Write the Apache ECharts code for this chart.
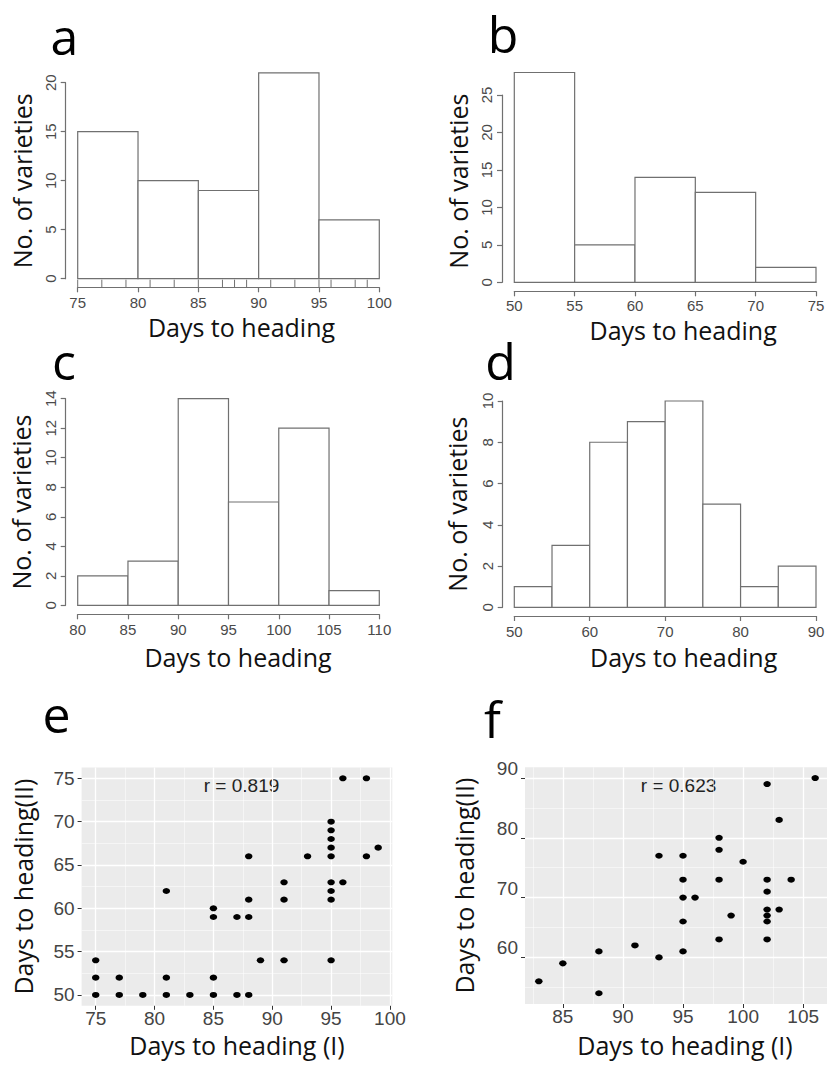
<!DOCTYPE html>
<html>
<head>
<meta charset="utf-8">
<title>Days to heading</title>
<script src="https://cdn.jsdelivr.net/npm/echarts@6.0.0/dist/echarts.min.js"></script>
<style>
  html, body { margin: 0; padding: 0; background: #fff; }
  #main { width: 827px; height: 1069px; }
</style>
</head>
<body>
<div id="main"></div>
<script>
// histogram bin edges and counts (a-d)
var edgesA = [75, 80, 85, 90, 95, 100];
var countsA = [15, 10, 9, 21, 6];
var rugA = [75, 77, 79, 81, 83, 85, 87, 88, 89, 91, 93, 95, 96, 98, 99];

var edgesB = [50, 55, 60, 65, 70, 75];
var countsB = [28, 5, 14, 12, 2];

var edgesC = [80, 85, 90, 95, 100, 105, 110];
var countsC = [2, 3, 14, 7, 12, 1];

var edgesD = [50, 55, 60, 65, 70, 75, 80, 85, 90];
var countsD = [1, 3, 8, 9, 10, 5, 1, 2];

// y axis tops of the histograms
var yTopA = 20, yTopB = 25, yTopC = 14, yTopD = 10;

// scatter e: heading (I) vs heading (II)
var xE = [75, 75, 75, 77, 77, 79, 81, 81, 81, 83, 85, 85, 85, 85, 87, 87, 88, 88, 88, 88,
          89, 91, 91, 91, 93, 95, 95, 95, 95, 95, 95, 95, 95, 95, 96, 96, 98, 98, 99];
var yE = [50, 52, 54, 50, 52, 50, 50, 52, 62, 50, 50, 52, 59, 60, 50, 59, 50, 59, 61, 66,
          54, 54, 61, 63, 66, 54, 61, 62, 63, 66, 67, 68, 69, 70, 63, 75, 66, 75, 67];
var rE = 'r = 0.819';
var ticksEx = [75, 80, 85, 90, 95, 100];
var ticksEy = [50, 55, 60, 65, 70, 75];
var minorEx = [77.5, 82.5, 87.5, 92.5, 97.5];
var minorEy = [52.5, 57.5, 62.5, 67.5, 72.5];

// scatter f
var xF = [83, 85, 88, 88, 91, 93, 93, 95, 95, 95, 95, 95, 96, 98, 98, 98, 98, 99, 100,
          102, 102, 102, 102, 102, 102, 102, 103, 103, 104, 106];
var yF = [56, 59, 61, 54, 62, 60, 77, 77, 73, 70, 66, 61, 70, 80, 78, 73, 63, 67, 76,
          89, 73, 71, 68, 67, 66, 63, 83, 68, 73, 90];
var rF = 'r = 0.623';
var ticksFx = [85, 90, 95, 100, 105];
var ticksFy = [60, 70, 80, 90];
var minorFx = [82.5, 87.5, 92.5, 97.5, 102.5];
var minorFy = [55, 65, 75, 85];

var lineCol = '#707070';
var tickCol = '#4a4a4a';
var rFont = '"Liberation Sans", Arial, sans-serif';
var titleFont = '"Open Sans", sans-serif';

function bins(edges, counts) {
  return counts.map(function (c, i) { return [edges[i], edges[i + 1], c]; });
}

// ggplot style limits: data range plus 5%
function expand(vals) {
  var lo = Math.min.apply(null, vals), hi = Math.max.apply(null, vals);
  var d = (hi - lo) * 0.05;
  return [lo - d, hi + d];
}

function histItem(params, api) {
  var p0 = api.coord([api.value(0), 0]);
  var p1 = api.coord([api.value(1), api.value(2)]);
  return {
    type: 'rect',
    shape: { x: p0[0], y: p1[1], width: p1[0] - p0[0], height: p0[1] - p1[1] },
    style: { fill: '#fff', stroke: lineCol, lineWidth: 1.2 }
  };
}

var offA = 8.6;
function rugItem(params, api) {
  var p = api.coord([api.value(0), 0]);
  return {
    type: 'line',
    shape: { x1: p[0], y1: p[1] + 1, x2: p[0], y2: p[1] + offA },
    style: { stroke: lineCol, lineWidth: 1 }
  };
}

function rX(gi, edges, step, off, margin, gap, shift) {
  return {
    type: 'value', gridIndex: gi, min: edges[0], max: edges[edges.length - 1], interval: step,
    offset: off,
    axisLine: { show: true, onZero: false, lineStyle: { color: lineCol, width: 1.2 } },
    axisTick: { show: true, length: 5, lineStyle: { color: lineCol, width: 1.2 } },
    axisLabel: { margin: margin, fontSize: 15, color: tickCol, fontFamily: rFont, showMinLabel: true, showMaxLabel: true },
    splitLine: { show: false },
    name: 'Days to heading', nameLocation: 'middle', nameGap: gap,
    nameTextStyle: { fontSize: 25, fontFamily: titleFont, color: '#111', padding: [0, 0, 0, shift] }
  };
}

function rY(gi, top, step, off, gap, shift) {
  return {
    type: 'value', gridIndex: gi, min: 0, max: top, interval: step,
    offset: off,
    axisLine: { show: true, onZero: false, lineStyle: { color: lineCol, width: 1.2 } },
    axisTick: { show: true, length: 5, lineStyle: { color: lineCol, width: 1.2 } },
    axisLabel: { rotate: 90, margin: 8, fontSize: 15, color: tickCol, fontFamily: rFont, showMinLabel: true, showMaxLabel: true },
    splitLine: { show: false },
    name: 'No. of varieties', nameLocation: 'middle', nameGap: gap,
    nameTextStyle: { fontSize: 25, fontFamily: titleFont, color: '#111', padding: [0, 0, 0, shift] }
  };
}

function gX(gi, range, ticks, margin, gap, shift) {
  return {
    type: 'value', gridIndex: gi, min: range[0], max: range[1], position: 'bottom',
    axisLine: { show: false },
    axisTick: { show: true, length: 4, customValues: ticks, lineStyle: { color: '#333', width: 1 } },
    axisLabel: { margin: margin, fontSize: 19, color: '#444', fontFamily: rFont, customValues: ticks },
    splitLine: { show: true, lineStyle: { color: '#fff', width: 1.3 } },
    name: 'Days to heading (I)', nameLocation: 'middle', nameGap: gap,
    nameTextStyle: { fontSize: 25, fontFamily: titleFont, color: '#111', padding: [0, 0, 0, shift] }
  };
}

function gY(gi, range, ticks, gap, vAlign) {
  return {
    type: 'value', gridIndex: gi, min: range[0], max: range[1], position: 'left',
    axisLine: { show: false },
    axisTick: { show: true, length: 4, customValues: ticks, lineStyle: { color: '#333', width: 1 } },
    axisLabel: { margin: 7, fontSize: 19, color: '#444', fontFamily: rFont, customValues: ticks, verticalAlign: vAlign },
    splitLine: { show: true, lineStyle: { color: '#fff', width: 1.3 } },
    name: 'Days to heading(II)', nameLocation: 'middle', nameGap: gap,
    nameTextStyle: { fontSize: 25, fontFamily: titleFont, color: '#111' }
  };
}

function minorAxis(gi, range, vals, pos) {
  return {
    type: 'value', gridIndex: gi, min: range[0], max: range[1], position: pos,
    axisLine: { show: false },
    axisTick: { show: false, customValues: vals },
    axisLabel: { show: false, customValues: vals },
    splitLine: { show: true, lineStyle: { color: 'rgba(255,255,255,0.75)', width: 0.7 } }
  };
}

function letter(ch, x, y) {
  return { type: 'text', x: x, y: y,
    style: { text: ch, fontSize: 50, fontFamily: titleFont, fill: '#000', align: 'center', verticalAlign: 'middle' } };
}

var rangeEx = expand(xE), rangeEy = expand(yE);
var rangeFx = expand(xF), rangeFy = expand(yF);

var gridBase = { containLabel: false, outerBoundsMode: 'none' };
function grid(l, t, w, h, extra) {
  return Object.assign({ left: l, top: t, width: w, height: h }, gridBase, extra || {});
}
var ggBg = { show: true, backgroundColor: '#ebebeb', borderWidth: 0 };

var myChart = echarts.init(document.getElementById('main'), null, { renderer: 'svg' });

var option = {
  animation: false,
  backgroundColor: '#fff',
  grid: [
    grid(77.7, 82.7, 301.6, 196),
    grid(514.3, 95, 301.7, 187.3),
    grid(77.7, 398.7, 301.6, 206.6),
    grid(514.3, 401, 301.7, 206.3),
    grid(81.6, 767.5, 310.7, 238.3, ggBg),
    grid(525, 767.3, 304, 236.7, ggBg)
  ],
  xAxis: [
    rX(0, edgesA, 5, offA, 8, 27, 26),
    rX(1, edgesB, 5, 9, 6.5, 26, 36),
    rX(2, edgesC, 5, 9, 8, 30, 19),
    rX(3, edgesD, 10, 8.7, 8, 28, 37),
    gX(4, rangeEx, ticksEx, 3, 27, 0),
    gX(5, rangeFx, ticksFx, 3, 28, 16),
    minorAxis(4, rangeEx, minorEx, 'top'),
    minorAxis(5, rangeFx, minorFx, 'top')
  ],
  yAxis: [
    rY(0, yTopA, 5, 12, 31, 0),
    rY(1, yTopB, 5, 12.3, 32, 15),
    rY(2, yTopC, 2, 12, 32, 0),
    rY(3, yTopD, 2, 11.6, 33, 0),
    gY(4, rangeEy, ticksEy, 46, 'middle'),
    gY(5, rangeFy, ticksFy, 49, 'bottom'),
    minorAxis(4, rangeEy, minorEy, 'right'),
    minorAxis(5, rangeFy, minorFy, 'right')
  ],
  series: [
    { type: 'custom', xAxisIndex: 0, yAxisIndex: 0, clip: false, renderItem: histItem,
      encode: { x: [0, 1], y: 2 }, data: bins(edgesA, countsA) },
    { type: 'custom', xAxisIndex: 0, yAxisIndex: 0, clip: false, renderItem: rugItem,
      encode: { x: 0, y: 1 }, data: rugA.map(function (v) { return [v, 0]; }) },
    { type: 'custom', xAxisIndex: 1, yAxisIndex: 1, clip: false, renderItem: histItem,
      encode: { x: [0, 1], y: 2 }, data: bins(edgesB, countsB) },
    { type: 'custom', xAxisIndex: 2, yAxisIndex: 2, clip: false, renderItem: histItem,
      encode: { x: [0, 1], y: 2 }, data: bins(edgesC, countsC) },
    { type: 'custom', xAxisIndex: 3, yAxisIndex: 3, clip: false, renderItem: histItem,
      encode: { x: [0, 1], y: 2 }, data: bins(edgesD, countsD) },
    { type: 'scatter', xAxisIndex: 4, yAxisIndex: 4, symbol: 'circle', symbolSize: [7.5, 6],
      itemStyle: { color: '#000', opacity: 1 }, data: xE.map(function (v, i) { return [v, yE[i]]; }) },
    { type: 'scatter', xAxisIndex: 5, yAxisIndex: 5, symbol: 'circle', symbolSize: [7.5, 6],
      itemStyle: { color: '#000', opacity: 1 }, data: xF.map(function (v, i) { return [v, yF[i]]; }) }
  ],
  graphic: [
    letter('a', 64.5, 36),
    letter('b', 503, 34),
    letter('c', 64, 361),
    letter('d', 500.5, 361),
    letter('e', 56.5, 714),
    letter('f', 492.5, 719),
    { type: 'text', x: 241.5, y: 785.7, style: { text: rE, fontSize: 19, fontFamily: rFont, fill: '#222', align: 'center', verticalAlign: 'middle' } },
    { type: 'text', x: 678.5, y: 785.7, style: { text: rF, fontSize: 19, fontFamily: rFont, fill: '#222', align: 'center', verticalAlign: 'middle' } }
  ]
};

myChart.setOption(option);
</script>
</body>
</html>
